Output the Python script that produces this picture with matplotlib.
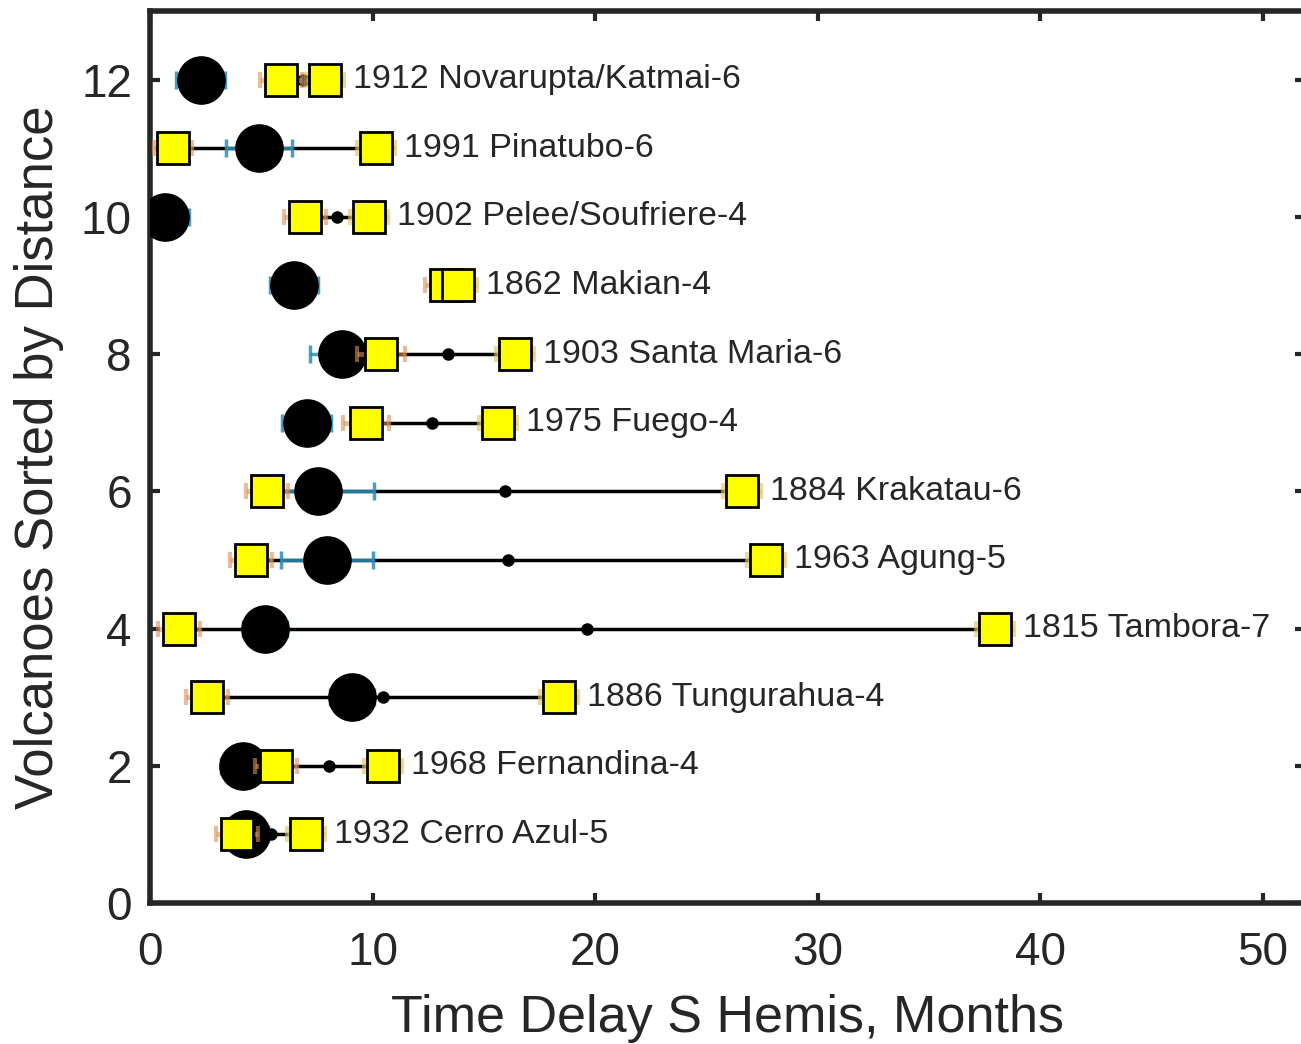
import matplotlib
matplotlib.use("Agg")
import matplotlib.pyplot as plt
import numpy as np

plt.rcParams['font.family'] = ['Liberation Sans', 'DejaVu Sans']

# ---- data (rows 1..12, sorted by distance) ----
labels = ["1932 Cerro Azul-5", "1968 Fernandina-4", "1886 Tungurahua-4",
          "1815 Tambora-7", "1963 Agung-5", "1884 Krakatau-6", "1975 Fuego-4",
          "1903 Santa Maria-6", "1862 Makian-4", "1902 Pelee/Soufriere-4",
          "1991 Pinatubo-6", "1912 Novarupta/Katmai-6"]
rows = [1, 2, 3, 4, 5, 6, 7, 8, 9, 10, 11, 12]
circle_delay = [4.31, 4.18, 9.07, 5.17, 7.95, 7.55, 7.05, 8.63, 6.47, 0.67, 4.9, 2.29]
circle_err = [1.0, 1.0, 1.0, 1.0, 2.05, 2.5, 1.1, 1.45, 1.1, 1.1, 1.5, 1.1]
sq1_delay = [3.91, 5.66, 2.56, 1.30, 4.54, 5.26, 9.70, 10.38, 13.3, 6.96, 1.03, 5.88]
sq1_err = [0.95, 0.95, 0.95, 0.95, 0.95, 0.95, 1.05, 1.1, 0.95, 0.95, 0.85, 0.95]
sq2_delay = [7.00, 10.47, 18.37, 37.96, 27.67, 26.60, 15.63, 16.40, 13.85, 9.84, 10.15, 7.86]
sq2_err = [0.85, 0.85, 0.85, 0.85, 0.85, 0.85, 0.85, 0.85, 0.85, 0.85, 0.85, 0.85]

x_ticks = [0, 10, 20, 30, 40, 50]
y_ticks = [0, 2, 4, 6, 8, 10, 12]

txt = '#262626'
W, H = 1301, 1044
fig = plt.figure(figsize=(W / 100, H / 100), dpi=100)
ax = fig.add_axes([150 / W, (H - 903) / H, 1155 / W, (903 - 11) / H])

sq1 = np.array(sq1_delay)
sq2 = np.array(sq2_delay)
mid = (sq1 + sq2) / 2

# connecting lines between the two estimates
ax.hlines(rows, np.minimum(sq1, sq2), np.maximum(sq1, sq2), color='black', lw=2.5, zorder=1)
# mean point
ax.plot(mid, rows, 'o', color='black', ms=8, zorder=2)
# circle error bars
ax.errorbar(circle_delay, rows, xerr=circle_err, fmt='none', ecolor='#2a8db5',
            elinewidth=2.5, capsize=6.5, capthick=2.5, alpha=0.85, zorder=3)
ax.plot(circle_delay, rows, 'o', color='black', ms=34, zorder=4)
# square error bars
ax.errorbar(sq1_delay, rows, xerr=sq1_err, fmt='none', ecolor='#d9905a',
            elinewidth=3.5, capsize=6, capthick=3, alpha=0.6, zorder=5)
ax.errorbar(sq2_delay, rows, xerr=sq2_err, fmt='none', ecolor='#e2c060',
            elinewidth=3.5, capsize=6, capthick=3, alpha=0.6, zorder=5)
ax.plot(sq1_delay, rows, 's', mfc='#ffff00', mec='black', mew=2, ms=22.5, zorder=6)
ax.plot(sq2_delay, rows, 's', mfc='#ffff00', mec='black', mew=2, ms=22.5, zorder=6)

for r, x2, lab in zip(rows, sq2_delay, labels):
    ax.text(x2 + 1.25, r, lab, fontsize=24.5, color=txt, va='center', ha='left', zorder=7)

ax.set_xlim(0, 51.9)
ax.set_ylim(0, 13)
ax.set_xticks(x_ticks)
ax.set_yticks(y_ticks)
ax.tick_params(axis='both', direction='in', top=True, right=True, length=7, width=3,
               labelsize=33, labelcolor=txt, color=txt)
ax.tick_params(axis='x', pad=20)
ax.tick_params(axis='y', pad=13)
for s in ax.spines.values():
    s.set_linewidth(4)
    s.set_color(txt)
ax.spines['right'].set_visible(False)

ax.set_xlabel('Time Delay S Hemis, Months', fontsize=37.5, color=txt, labelpad=14)
ax.set_ylabel('Volcanoes Sorted by Distance', fontsize=38, color=txt, labelpad=12)

fig.savefig('out.png', dpi=100)
